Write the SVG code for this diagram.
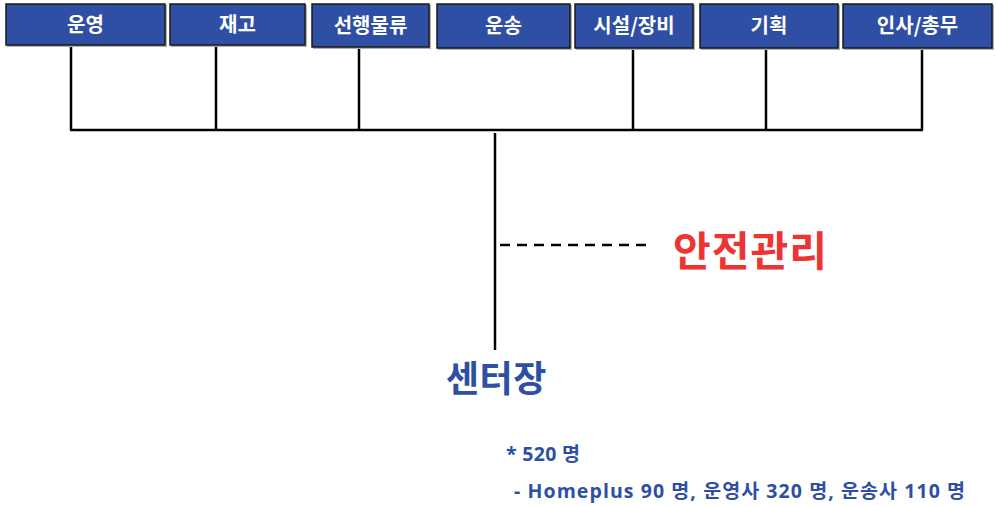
<svg xmlns="http://www.w3.org/2000/svg" width="996" height="506" viewBox="0 0 996 506">
<style>
.box{fill:#2E4FA3;stroke:#1a1a1a;stroke-width:1.5}
.sh{fill:#b0b0b0}
.bt{font-family:"Noto Sans CJK KR","Noto Sans",sans-serif;font-weight:bold;font-size:20px;fill:#fff;text-anchor:middle}
.ln{stroke:#000;stroke-width:2.5;fill:none}
.note{font-family:"Open Sans","Noto Sans CJK KR",sans-serif;font-weight:bold;font-size:19.5px;fill:#2E4FA3}
</style>
<rect width="996" height="506" fill="#fff"/>
<g id="connectors">
<path class="ln" d="M71 46V130M216 46V130M359 48V130M633 48V130M766 48V130M922 48V130M70 130H923"/>
<path class="ln" d="M495 133V350"/>
<path d="M500 245H653" stroke="#000" stroke-width="2.5" stroke-dasharray="10 7"/>
</g>
<g id="n1"><rect class="sh" x="7" y="5" width="160" height="42"/><rect class="box" x="6" y="4" width="159" height="41"/><text class="bt" x="85.5" y="32">운영</text></g>
<g id="n2"><rect class="sh" x="171" y="5" width="136" height="42"/><rect class="box" x="170" y="4" width="135" height="41"/><text class="bt" x="237.5" y="32">재고</text></g>
<g id="n3"><rect class="sh" x="313" y="5" width="118" height="44"/><rect class="box" x="312" y="4" width="117" height="43"/><text class="bt" x="370.5" y="33">선행물류</text></g>
<g id="n4"><rect class="sh" x="438" y="5" width="134" height="45"/><rect class="box" x="437" y="4" width="133" height="44"/><text class="bt" x="503.5" y="33">운송</text></g>
<g id="n5"><rect class="sh" x="576" y="5" width="119" height="45"/><rect class="box" x="575" y="4" width="118" height="44"/><text class="bt" x="634" y="33">시설/장비</text></g>
<g id="n6"><rect class="sh" x="701" y="5" width="139" height="45"/><rect class="box" x="700" y="4" width="138" height="44"/><text class="bt" x="769" y="33">기획</text></g>
<g id="n7"><rect class="sh" x="844" y="5" width="150" height="45"/><rect class="box" x="843" y="4" width="149" height="44"/><text class="bt" x="917.5" y="33">인사/총무</text></g>
<g id="safety"><text x="673" y="266" font-family="Noto Sans CJK KR,Noto Sans,sans-serif" font-weight="bold" font-size="41" letter-spacing="1" fill="#EE3333">안전관리</text></g>
<g id="head"><text x="446" y="392" font-family="Noto Sans CJK KR,Noto Sans,sans-serif" font-weight="bold" font-size="36" letter-spacing="0.5" fill="#2E4FA3">센터장</text></g>
<g id="notes">
<text class="note" x="506" y="461" textLength="74" lengthAdjust="spacing">* 520 명</text>
<text class="note" x="514" y="498" textLength="451" lengthAdjust="spacing">- Homeplus 90 명, 운영사 320 명, 운송사 110 명</text>
</g>
</svg>
